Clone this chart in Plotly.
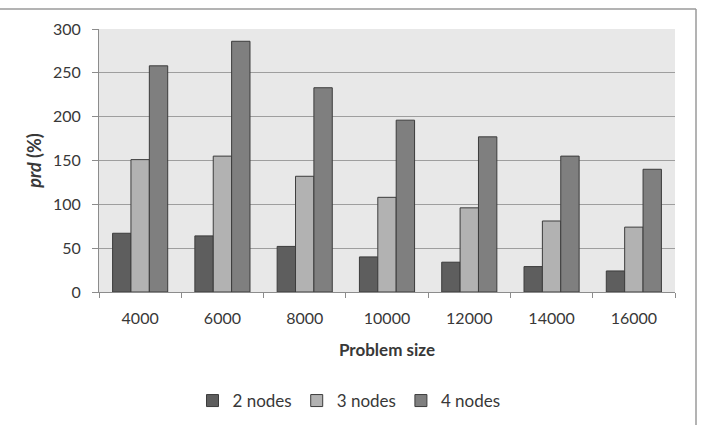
import plotly.graph_objects as go

categories = ["4000", "6000", "8000", "10000", "12000", "14000", "16000"]
nodes2 = [67, 64, 52, 40, 34, 29, 24]
nodes3 = [151, 155, 132, 108, 96, 81, 74]
nodes4 = [258, 286, 233, 196, 177, 155, 140]
series_names = ["2 nodes", "3 nodes", "4 nodes"]
series_colors = ["#5e5e5e", "#b2b2b2", "#7f7f7f"]
y_ticks = [0, 50, 100, 150, 200, 250, 300]

FONT = "Lato, 'Open Sans', sans-serif"
TXT = "#383838"

fig = go.Figure()
for name, vals, col in zip(series_names, [nodes2, nodes3, nodes4], series_colors):
    fig.add_trace(go.Bar(
        x=categories, y=vals, name=name,
        marker=dict(color=col, line=dict(color="#3c3c3c", width=1)),
    ))

W, H = 703, 425
L, R, T, B = 99, 28, 29, 133
pw, ph = W - L - R, H - T - B

def px_to_paper_x(px):
    return (px - L) / pw

def px_to_paper_y(py):
    return (H - B - py) / ph

fig.update_layout(
    width=W, height=H,
    margin=dict(l=L, r=R, t=T, b=B, pad=0, autoexpand=False),
    paper_bgcolor="white",
    plot_bgcolor="#e8e8e8",
    barmode="group",
    bargap=0.33,
    bargroupgap=0,
    font=dict(family=FONT, size=16, color=TXT),
    showlegend=True,
    legend=dict(
        orientation="h", x=px_to_paper_x(349), xanchor="center",
        y=px_to_paper_y(401), yanchor="middle",
        font=dict(family=FONT, size=17, color=TXT),
        itemwidth=30, tracegroupgap=0,
    ),
    xaxis=dict(
        type="category",
        automargin=False,
        showline=True, linecolor="#8c8c8c", linewidth=1,
        ticks="outside", tickson="boundaries", ticklen=5, tickcolor="#8c8c8c",
        showgrid=False,
        tickfont=dict(family=FONT, size=16, color=TXT),
        ticklabelstandoff=12,
        title=dict(text="<b>Problem size</b>", font=dict(family=FONT, size=17, color=TXT), standoff=17),
    ),
    yaxis=dict(
        range=[0, 300],
        automargin=False,
        tickvals=y_ticks,
        showline=True, linecolor="#8c8c8c", linewidth=1,
        ticks="outside", ticklen=6, tickcolor="#8c8c8c",
        showgrid=True, gridcolor="#9e9e9e", gridwidth=1,
        zeroline=False,
        tickfont=dict(family=FONT, size=16, color=TXT),
        ticklabelstandoff=8,
        title=dict(text="<b><i>prd</i> (%)</b>", font=dict(family=FONT, size=18, color=TXT), standoff=6),
    ),
    shapes=[
        dict(type="line", xref="paper", yref="paper",
             x0=px_to_paper_x(-5), x1=px_to_paper_x(696),
             y0=px_to_paper_y(9), y1=px_to_paper_y(9),
             line=dict(color="#9a9a9a", width=1.5)),
        dict(type="line", xref="paper", yref="paper",
             x0=px_to_paper_x(696), x1=px_to_paper_x(696),
             y0=px_to_paper_y(9), y1=px_to_paper_y(430),
             line=dict(color="#9a9a9a", width=1.5)),
    ],
)

fig.write_html("out.html")
